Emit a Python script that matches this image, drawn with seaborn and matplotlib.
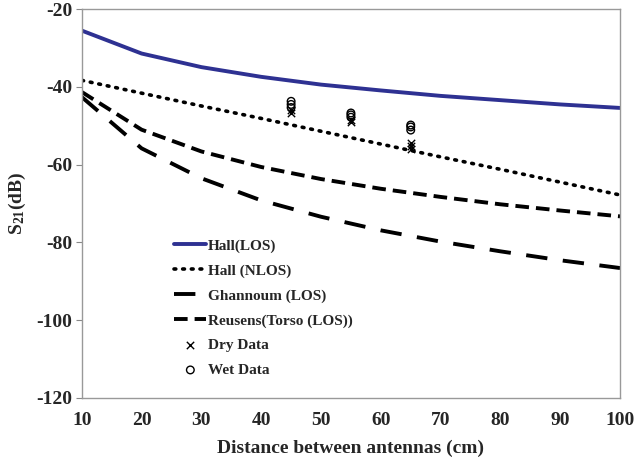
import matplotlib
matplotlib.use("Agg")
import matplotlib.pyplot as plt
import seaborn as sns
import pandas as pd

# Distance between antennas (cm)
distance = [10, 20, 30, 40, 50, 60, 70, 80, 90, 100]

# Path-loss models (dB)
hall_los = [-25.5, -31.4, -34.9, -37.4, -39.4, -40.9, -42.3, -43.4, -44.5, -45.4]
hall_nlos = [-38.3, -41.6, -44.9, -48.1, -51.4, -54.7, -58.0, -61.2, -64.5, -67.8]
ghannoum_los = [-42.6, -55.8, -63.5, -69.2, -73.4, -76.9, -79.8, -82.3, -84.6, -86.6]
reusens_torso = [-41.3, -51.0, -56.6, -60.6, -63.7, -66.2, -68.3, -70.2, -71.8, -73.3]

# Measurements
dry_distance = [45, 45, 55, 55, 65, 65, 65]
dry_s21 = [-46.0, -46.8, -48.5, -49.0, -54.4, -55.2, -56.0]
wet_distance = [45, 45, 45, 55, 55, 55, 65, 65, 65]
wet_s21 = [-43.7, -44.5, -45.3, -46.7, -47.2, -47.8, -49.8, -50.3, -51.1]

x_ticks = [10, 20, 30, 40, 50, 60, 70, 80, 90, 100]
y_ticks = [-120, -100, -80, -60, -40, -20]

sns.set_style("white")
plt.rcParams["font.family"] = ["Liberation Serif", "DejaVu Serif"]
plt.rcParams["font.weight"] = "bold"
plt.rcParams["axes.unicode_minus"] = False
plt.rcParams["mathtext.fontset"] = "custom"
plt.rcParams["mathtext.rm"] = "Liberation Serif:bold"
plt.rcParams["mathtext.it"] = "Liberation Serif:bold"
plt.rcParams["mathtext.bf"] = "Liberation Serif:bold"
plt.rcParams["mathtext.default"] = "rm"

fig = plt.figure(figsize=(6.34, 4.61), dpi=100)
ax = fig.add_axes([0.129, 0.137, 0.849, 0.843])

df = pd.DataFrame({
    "d": distance,
    "hall_los": hall_los,
    "hall_nlos": hall_nlos,
    "ghannoum": ghannoum_los,
    "reusens": reusens_torso,
})

sns.lineplot(data=df, x="d", y="hall_los", ax=ax, color="#2e3192", lw=2.8,
             label="Hall(LOS)")
sns.lineplot(data=df, x="d", y="hall_nlos", ax=ax, color="black", lw=2.6,
             linestyle=(0, (0.5, 1.9)), dash_capstyle="round",
             label="Hall (NLOS)")
sns.lineplot(data=df, x="d", y="ghannoum", ax=ax, color="black", lw=2.8,
             linestyle=(0, (5.5, 4.0)), label="Ghannoum (LOS)")
sns.lineplot(data=df, x="d", y="reusens", ax=ax, color="black", lw=2.8,
             linestyle=(0, (3.5, 1.8)), label="Reusens(Torso (LOS))")
sns.scatterplot(x=dry_distance, y=dry_s21, ax=ax, marker="x", color="black",
                s=28, linewidth=1.0, label="Dry Data")
sns.scatterplot(x=wet_distance, y=wet_s21, ax=ax, marker="o", facecolor="none",
                edgecolor="black", s=30, linewidth=1.0, label="Wet Data")

ax.set_xlim(10, 100)
ax.set_ylim(-120, -20)
ax.set_xticks(x_ticks)
ax.set_yticks(y_ticks)
ax.tick_params(axis="both", labelsize=14)
ax.tick_params(axis="y", which="major", left=True, length=4, color="#888888",
               width=0.8, pad=3)
ax.tick_params(axis="x", length=0, pad=10)
for lab in ax.get_xticklabels() + ax.get_yticklabels():
    lab.set_fontweight("bold")

for sp in ax.spines.values():
    sp.set_color("#999999")
    sp.set_linewidth(1.0)

ax.set_xlabel("Distance between antennas (cm)", fontsize=14,
              fontweight="bold", labelpad=8)
ax.set_ylabel("S$_{21}$(dB)", fontsize=14, fontweight="bold", labelpad=6)

leg = ax.legend(loc="upper left", bbox_to_anchor=(0.152, 0.436), frameon=False,
                fontsize=11, handlelength=2.1, handletextpad=0.1,
                labelspacing=0.72, borderpad=0.2)
for t in leg.get_texts():
    t.set_fontweight("bold")

fig.savefig("out.png", dpi=100)
